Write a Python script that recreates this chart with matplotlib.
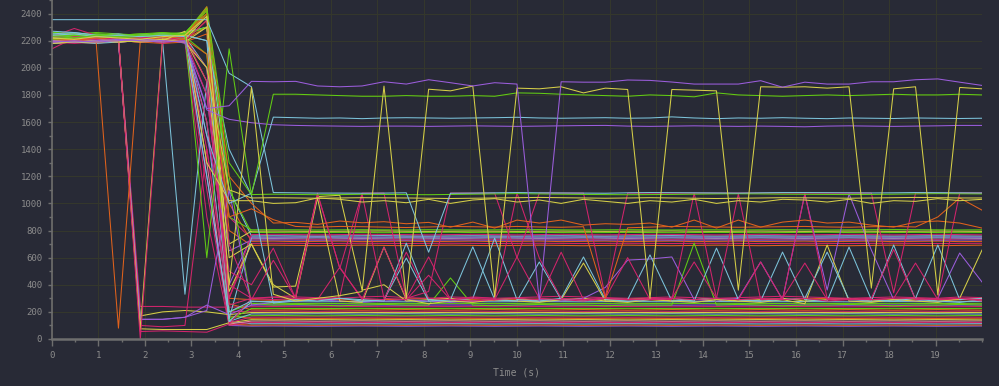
import matplotlib
matplotlib.use("agg")
import matplotlib.pyplot as plt
from matplotlib.ticker import MultipleLocator

# palette
BG = "#282a36"
PURPLE = "#9b5ddc"
GREEN = "#62cc14"
CYAN = "#7cc3da"
YELLOW = "#d6cf48"
ORANGE = "#e0621c"
MAGENTA = "#d2246c"
PINK = "#ee7fa0"

time_s = [0.00, 0.48, 0.95, 1.43, 1.90, 2.38, 2.86, 3.33, 3.81, 4.29,
          4.76, 5.24, 5.71, 6.19, 6.67, 7.14, 7.62, 8.10, 8.57, 9.05,
          9.52, 10.00, 10.48, 10.95, 11.43, 11.90, 12.38, 12.86, 13.33, 13.81,
          14.29, 14.76, 15.24, 15.71, 16.19, 16.67, 17.14, 17.62, 18.10, 18.57,
          19.05, 19.52, 20.00]

# ── top lines ────────────────────────────────────────────────────────
purple_top = [2200, 2190, 2200, 2210, 2200, 2190, 2200, 1700, 1720,
              1900, 1897, 1900, 1866, 1860, 1866, 1897, 1880, 1912, 1890, 1866, 1890, 1880, 280, 1897, 1894, 1894,
              1910, 1907, 1895, 1880, 1880, 1880, 1905, 1857, 1894, 1880, 1880, 1897, 1897, 1912, 1918, 1894, 1870]
green_high = [2230, 2220, 2240, 2230, 2240, 2250, 2250, 600, 2140,
              1060, 1805, 1805, 1800, 1795, 1790, 1790, 1795, 1790, 1790, 1795, 1790, 1815, 1812, 1805, 1800, 1795,
              1790, 1800, 1795, 1786, 1815, 1800, 1795, 1790, 1795, 1800, 1795, 1800, 1805, 1800, 1800, 1805, 1800]
cyan_top = [2355, 2355, 2355, 2355, 2355, 2355, 2355, 2355, 1960,
            1860, 1080, 1078, 1076, 1076, 1075, 1076, 1078, 640, 1075, 1076, 1078, 1080, 1078, 1077, 1076, 1075,
            1078, 1080, 1079, 1078, 1077, 1076, 1078, 1080, 1080, 1079, 1078, 1077, 1078, 1080, 1079, 1078, 1077]
cyan_mid = [2240, 2250, 2230, 2240, 2230, 2240, 2230, 1500, 1000,
            1075, 1636, 1632, 1628, 1630, 1625, 1630, 1632, 1630, 1628, 1630, 1632, 1635, 1630, 1628, 1630, 1632,
            1628, 1630, 1638, 1630, 1625, 1630, 1628, 1632, 1628, 1625, 1630, 1628, 1626, 1630, 1628, 1626, 1628]
purple_mid = [2190, 2200, 2190, 2200, 2210, 2200, 2190, 1690, 1620,
              1595, 1580, 1575, 1572, 1570, 1568, 1570, 1570, 1568, 1570, 1572, 1570, 1568, 1570, 1572, 1574, 1575,
              1570, 1568, 1570, 1572, 1570, 1568, 1570, 1568, 1565, 1570, 1572, 1570, 1568, 1570, 1572, 1575, 1575]
yellow_osc = [2220, 2210, 2230, 2220, 2210, 2230, 2240, 2380, 400,
              1855, 330, 280, 300, 320, 350, 1865, 300, 1842, 1830, 1865, 310, 1850, 1845, 1860, 1815, 1850,
              1840, 300, 1840, 1835, 1830, 360, 1860, 1857, 1860, 1850, 1860, 375, 1845, 1860, 325, 1855, 1845]

# ── ~1000-1080 band ──────────────────────────────────────────────────
green_1065 = [2210, 2220, 2230, 2220, 2230, 2240, 2250, 2440, 1300,
              1065, 1068, 1066, 1064, 1065, 1067, 1066, 1065, 1064, 1066, 1068, 1070, 1072, 1070, 1068, 1066, 1065,
              1064, 1065, 1066, 1068, 1070, 1071, 1070, 1068, 1067, 1066, 1065, 1066, 1068, 1070, 1072, 1071, 1070]
yellow_1040 = [2180, 2190, 2200, 2190, 2200, 2210, 2190, 2000, 1100,
               1040, 1042, 1040, 1038, 1040, 1042, 1041, 1040, 1038, 1036, 1038, 1040, 1042, 1044, 1042, 1040, 1038,
               1040, 1042, 1040, 1038, 1036, 1038, 1040, 1042, 1041, 1040, 1038, 1040, 1042, 1044, 1042, 1040, 1040]
yellow_1005 = [2200, 2190, 2190, 2200, 2190, 2200, 2270, 1300, 1020,
               1020, 1000, 1005, 1040, 1030, 1010, 1020, 1005, 1030, 1000, 1025, 1035, 1010, 1025, 1000, 1030, 1015,
               1000, 1020, 1010, 1030, 1000, 1020, 1010, 1030, 1025, 1010, 1030, 1000, 1020, 1015, 1035, 1020, 1030]
orange_850 = [2210, 2200, 2220, 2200, 2210, 2220, 2230, 2450, 1200,
              1000, 855, 860, 845, 870, 857, 865, 850, 860, 825, 862, 818, 877, 855, 877, 840, 850,
              845, 855, 825, 877, 818, 877, 825, 862, 877, 855, 862, 840, 825, 862, 870, 855, 818]
orange_osc = [2200, 2210, 2190, 80, 2200, 2190, 2210, 2100, 900,
              960, 880, 830, 825, 830, 828, 825, 822, 826, 830, 828, 825, 830, 826, 824, 828, 300,
              820, 825, 830, 828, 826, 824, 826, 828, 830, 826, 824, 828, 830, 826, 900, 1040, 950]

# ── oscillating lines ────────────────────────────────────────────────
mag_osc1 = [2140, 2220, 2230, 2220, 0, 2200, 2230, 1900, 250,
            300, 310, 320, 1075, 520, 1076, 1076, 300, 350, 1076, 1076, 1076, 600, 1076, 1076, 1076, 310,
            1076, 1076, 1076, 1076, 1076, 1076, 1076, 1076, 1076, 1076, 1076, 1076, 340, 1076, 1076, 1076, 1076]
mag_osc2 = [2200, 2230, 2220, 2210, 2220, 2180, 2210, 1800, 400,
            300, 290, 300, 290, 530, 290, 678, 300, 605, 290, 280, 290, 605, 300, 290, 280, 300,
            290, 290, 300, 568, 300, 290, 568, 290, 300, 280, 290, 290, 300, 300, 290, 300, 280]
mag_osc3 = [2210, 2200, 2220, 2210, 2230, 2200, 2190, 1600, 500,
            400, 670, 300, 1068, 523, 300, 290, 640, 300, 290, 310, 300, 1076, 597, 300, 290, 300,
            600, 290, 300, 290, 300, 1070, 290, 300, 560, 290, 300, 290, 300, 560, 290, 300, 290]
mag_osc4 = [2230, 2220, 2210, 2230, 2220, 2230, 2200, 2350, 700,
            290, 580, 300, 290, 310, 1068, 300, 290, 470, 290, 300, 290, 300, 290, 640, 290, 300,
            290, 300, 290, 1076, 300, 290, 300, 290, 1070, 300, 290, 300, 660, 290, 300, 1076, 1076]
cyan_osc1 = [2230, 2210, 2220, 2210, 2230, 2190, 330, 1900, 200,
             280, 270, 290, 280, 300, 290, 280, 707, 290, 280, 300, 744, 290, 280, 300, 605, 290,
             280, 290, 300, 280, 670, 290, 280, 290, 300, 641, 290, 280, 693, 290, 280, 270, 290]
cyan_osc2 = [2250, 2260, 2240, 2230, 2240, 2250, 2240, 2200, 1400,
             1060, 265, 280, 290, 300, 280, 290, 597, 280, 290, 680, 290, 280, 568, 290, 280, 300,
             290, 620, 280, 290, 300, 290, 280, 641, 290, 280, 678, 290, 280, 300, 693, 290, 300]
yellow_osc2 = [2220, 2210, 2200, 2210, 70, 2220, 2210, 2380, 350,
               700, 400, 300, 1040, 280, 270, 678, 290, 260, 280, 270, 290, 280, 270, 290, 560, 280,
               270, 290, 280, 270, 290, 280, 270, 290, 260, 693, 280, 270, 290, 280, 270, 300, 656]
yellow_low = [2200, 2210, 2200, 2190, 2210, 2200, 2190, 2300, 600,
              700, 383, 390, 1050, 1060, 360, 400, 280, 290, 300, 280, 290, 300, 280, 290, 300, 280,
              290, 300, 280, 290, 300, 280, 290, 300, 280, 290, 300, 280, 290, 300, 280, 290, 300]
purple_osc = [2190, 2200, 2210, 2190, 145, 145, 160, 210, 1100,
              250, 270, 280, 290, 280, 270, 280, 290, 280, 270, 280, 290, 280, 290, 280, 300, 380,
              582, 590, 605, 290, 280, 300, 568, 290, 1070, 361, 1070, 656, 290, 280, 300, 634, 420]
green_osc = [2230, 2240, 2230, 2220, 2240, 2230, 2250, 2300, 1200,
             260, 250, 255, 250, 245, 250, 255, 250, 250, 450, 250, 245, 250, 255, 250, 250, 245,
             250, 250, 250, 707, 250, 255, 250, 245, 250, 250, 255, 250, 245, 250, 250, 255, 250]

# ── 690-810 band ─────────────────────────────────────────────────────
green_800 = [2240, 2230, 2250, 2240, 2250, 2260, 2240, 2300, 900,
             805, 806, 805, 804, 805, 806, 805, 804, 806, 805, 804, 805, 806, 807, 805, 804, 805,
             806, 805, 804, 806, 805, 804, 805, 806, 805, 804, 805, 806, 807, 806, 805, 804, 805]
yellow_795 = [2220, 2210, 2200, 2210, 2220, 2200, 2210, 1900, 700,
              795, 796, 795, 794, 795, 796, 797, 795, 794, 795, 796, 795, 794, 795, 796, 795, 794,
              795, 796, 797, 795, 794, 795, 796, 795, 794, 795, 796, 795, 794, 795, 796, 795, 794]
green_785 = [2260, 2250, 2240, 2230, 2240, 2250, 2260, 2420, 1100,
             786, 785, 784, 785, 786, 785, 784, 785, 786, 787, 785, 784, 785, 786, 785, 784, 785,
             786, 785, 784, 785, 786, 785, 784, 785, 786, 787, 785, 784, 785, 786, 785, 784, 785]
mag_770 = [2200, 2220, 2230, 2210, 2220, 2200, 2230, 1400, 300,
           770, 772, 770, 768, 770, 772, 771, 770, 768, 770, 772, 770, 768, 770, 772, 770, 768,
           770, 772, 771, 770, 768, 770, 772, 770, 768, 770, 772, 770, 768, 770, 772, 770, 768]
cyan_760 = [2270, 2260, 2240, 2250, 2230, 2240, 2260, 2300, 1100,
            760, 761, 760, 759, 760, 761, 762, 760, 759, 760, 761, 760, 759, 760, 761, 760, 759,
            760, 761, 762, 760, 759, 760, 761, 760, 759, 760, 761, 760, 759, 760, 761, 760, 759]
purple_752 = [2210, 2200, 2220, 2210, 2200, 2220, 2180, 1800, 400,
              752, 751, 752, 753, 752, 751, 752, 753, 752, 751, 752, 753, 752, 751, 752, 753, 752,
              751, 752, 753, 752, 751, 752, 753, 752, 751, 752, 753, 752, 751, 752, 753, 752, 751]
cyan_745 = [2180, 2190, 2180, 2190, 2200, 2190, 2210, 1200, 150,
            745, 744, 745, 746, 745, 744, 745, 746, 745, 744, 745, 746, 745, 744, 745, 746, 745,
            744, 745, 746, 745, 744, 745, 746, 745, 744, 745, 746, 745, 744, 745, 746, 745, 744]
mag_738 = [2230, 2290, 2240, 2230, 2240, 2230, 2250, 2300, 900,
           738, 740, 738, 736, 738, 740, 738, 736, 738, 740, 738, 736, 738, 740, 738, 736, 738,
           740, 738, 736, 738, 740, 738, 736, 738, 740, 738, 736, 738, 740, 738, 736, 738, 740]
purple_730 = [2200, 2210, 2200, 2190, 2200, 2210, 2200, 1500, 650,
              730, 731, 730, 729, 730, 731, 730, 729, 730, 731, 730, 729, 730, 731, 730, 729, 730,
              731, 730, 729, 730, 731, 730, 729, 730, 731, 730, 729, 730, 731, 730, 729, 730, 731]
orange_720 = [2210, 2220, 2230, 2220, 2210, 2230, 2220, 2400, 1000,
              720, 722, 718, 720, 722, 718, 720, 722, 718, 720, 722, 718, 720, 722, 718, 720, 722,
              718, 720, 722, 718, 720, 722, 718, 720, 722, 718, 720, 722, 718, 720, 722, 718, 720]
mag_705 = [2190, 2180, 2190, 2200, 2190, 2200, 2210, 2000, 300,
           705, 706, 705, 704, 705, 706, 705, 704, 705, 706, 705, 704, 705, 706, 705, 704, 705,
           706, 705, 704, 705, 706, 705, 704, 705, 706, 705, 704, 705, 706, 705, 704, 705, 706]
orange_690 = [2180, 2190, 2200, 2190, 2200, 2190, 2200, 2350, 800,
              690, 692, 690, 688, 690, 692, 690, 688, 690, 692, 690, 688, 690, 692, 690, 688, 690,
              692, 690, 688, 690, 692, 690, 688, 690, 692, 690, 688, 690, 692, 690, 688, 690, 692]

# ── 95-315 band ──────────────────────────────────────────────────────
mag_305 = [2200, 2210, 2220, 2210, 55, 60, 55, 50, 110,
           300, 305, 310, 305, 300, 310, 315, 305, 300, 310, 305, 300, 305, 310, 315, 310, 305,
           300, 305, 310, 305, 300, 305, 310, 315, 310, 305, 300, 305, 310, 305, 300, 310, 305]
orange_290 = [2220, 2210, 2230, 2220, 2210, 2230, 2220, 2440, 300,
              290, 285, 290, 295, 290, 285, 290, 295, 300, 295, 290, 285, 290, 295, 290, 285, 290,
              295, 290, 285, 290, 295, 290, 285, 290, 295, 300, 295, 290, 285, 290, 295, 290, 285]
cyan_275 = [2240, 2230, 2220, 2240, 2230, 2250, 2240, 2200, 130,
            275, 276, 275, 274, 275, 276, 275, 274, 275, 276, 275, 274, 275, 276, 275, 274, 275,
            276, 275, 274, 275, 276, 275, 274, 275, 276, 275, 274, 275, 276, 275, 274, 275, 276]
green_262 = [2230, 2240, 2250, 2240, 2230, 2240, 2250, 2450, 200,
             262, 263, 262, 261, 262, 263, 262, 261, 262, 263, 262, 261, 262, 263, 262, 261, 262,
             263, 262, 261, 262, 263, 262, 261, 262, 263, 262, 261, 262, 263, 262, 261, 262, 263]
purple_250 = [2190, 2200, 2210, 2190, 145, 145, 160, 250, 180,
              250, 251, 250, 249, 250, 251, 250, 249, 250, 251, 250, 249, 250, 251, 250, 249, 250,
              251, 250, 249, 250, 251, 250, 249, 250, 251, 250, 249, 250, 251, 250, 249, 250, 251]
mag_238 = [2210, 2200, 2190, 2210, 240, 240, 235, 235, 235,
           238, 239, 238, 237, 238, 239, 238, 237, 238, 239, 238, 237, 238, 239, 238, 237, 238,
           239, 238, 237, 238, 239, 238, 237, 238, 239, 238, 237, 238, 239, 238, 237, 238, 239]
green_225 = [2250, 2240, 2230, 2240, 2250, 2240, 2230, 2100, 140,
             225, 226, 225, 224, 225, 226, 225, 224, 225, 226, 225, 224, 225, 226, 225, 224, 225,
             226, 225, 224, 225, 226, 225, 224, 225, 226, 225, 224, 225, 226, 225, 224, 225, 226]
orange_215 = [2200, 2210, 2200, 2190, 2200, 2210, 2190, 2430, 260,
              215, 213, 215, 217, 215, 213, 215, 217, 215, 213, 215, 217, 215, 213, 215, 217, 215,
              213, 215, 217, 215, 213, 215, 217, 215, 213, 215, 217, 215, 213, 215, 217, 215, 213]
mag_205 = [2220, 2230, 2220, 2210, 100, 90, 100, 1400, 200,
           205, 206, 205, 204, 205, 206, 205, 204, 205, 206, 205, 204, 205, 206, 205, 204, 205,
           206, 205, 204, 205, 206, 205, 204, 205, 206, 205, 204, 205, 206, 205, 204, 205, 206]
yellow_195 = [2210, 2200, 2190, 2210, 170, 200, 210, 200, 180,
              195, 196, 195, 194, 195, 196, 195, 194, 195, 196, 195, 194, 195, 196, 195, 194, 195,
              196, 195, 194, 195, 196, 195, 194, 195, 196, 195, 194, 195, 196, 195, 194, 195, 196]
cyan_185 = [2230, 2240, 2230, 2220, 2230, 2240, 2230, 1600, 130,
            185, 184, 185, 186, 185, 184, 185, 186, 185, 184, 185, 186, 185, 184, 185, 186, 185,
            184, 185, 186, 185, 184, 185, 186, 185, 184, 185, 186, 185, 184, 185, 186, 185, 184]
green_172 = [2260, 2250, 2260, 2250, 2240, 2260, 2250, 2400, 160,
             172, 173, 172, 171, 172, 173, 172, 171, 172, 173, 172, 171, 172, 173, 172, 171, 172,
             173, 172, 171, 172, 173, 172, 171, 172, 173, 172, 171, 172, 173, 172, 171, 172, 173]
mag_162 = [2200, 2190, 2200, 2210, 2200, 2190, 2210, 1100, 120,
           162, 161, 162, 163, 162, 161, 162, 163, 162, 161, 162, 163, 162, 161, 162, 163, 162,
           161, 162, 163, 162, 161, 162, 163, 162, 161, 162, 163, 162, 161, 162, 163, 162, 161]
orange_152 = [2190, 2200, 2210, 2200, 2190, 2200, 2210, 2300, 170,
              152, 153, 152, 151, 152, 153, 152, 151, 152, 153, 152, 151, 152, 153, 152, 151, 152,
              153, 152, 151, 152, 153, 152, 151, 152, 153, 152, 151, 152, 153, 152, 151, 152, 153]
yellow_142 = [2220, 2210, 2220, 2210, 75, 70, 70, 70, 120,
              142, 141, 142, 143, 142, 141, 142, 143, 142, 141, 142, 143, 142, 141, 142, 143, 142,
              141, 142, 143, 142, 141, 142, 143, 142, 141, 142, 143, 142, 141, 142, 143, 142, 141]
pink_132 = [2240, 2250, 2240, 2230, 2240, 2250, 2240, 1300, 110,
            132, 133, 132, 131, 132, 133, 132, 131, 132, 133, 132, 131, 132, 133, 132, 131, 132,
            133, 132, 131, 132, 133, 132, 131, 132, 133, 132, 131, 132, 133, 132, 131, 132, 133]
mag_122 = [2210, 2200, 2210, 2200, 2210, 2200, 2190, 900, 100,
           122, 121, 122, 123, 122, 121, 122, 123, 122, 121, 122, 123, 122, 121, 122, 123, 122,
           121, 122, 123, 122, 121, 122, 123, 122, 121, 122, 123, 122, 121, 122, 123, 122, 121]
cyan_112 = [2230, 2220, 2230, 2240, 2230, 2220, 2230, 2000, 130,
            112, 113, 112, 111, 112, 113, 112, 111, 112, 113, 112, 111, 112, 113, 112, 111, 112,
            113, 112, 111, 112, 113, 112, 111, 112, 113, 112, 111, 112, 113, 112, 111, 112, 113]
orange_102 = [2180, 2190, 2180, 2200, 2190, 2180, 2190, 2250, 110,
              102, 103, 102, 101, 102, 103, 102, 101, 102, 103, 102, 101, 102, 103, 102, 101, 102,
              103, 102, 101, 102, 103, 102, 101, 102, 103, 102, 101, 102, 103, 102, 101, 102, 103]
purple_95 = [2200, 2210, 2200, 2190, 2200, 2210, 2200, 1200, 100,
             95, 96, 95, 94, 95, 96, 95, 94, 95, 96, 95, 94, 95, 96, 95, 94, 95,
             96, 95, 94, 95, 96, 95, 94, 95, 96, 95, 94, 95, 96, 95, 94, 95, 96]

series = [
    # bottom band
    (purple_95, PURPLE), (orange_102, ORANGE), (cyan_112, CYAN), (mag_122, MAGENTA),
    (pink_132, PINK), (yellow_142, YELLOW), (orange_152, ORANGE), (mag_162, MAGENTA),
    (green_172, GREEN), (cyan_185, CYAN), (yellow_195, YELLOW), (mag_205, MAGENTA),
    (orange_215, ORANGE), (green_225, GREEN), (mag_238, MAGENTA), (purple_250, PURPLE),
    (green_262, GREEN), (cyan_275, CYAN), (orange_290, ORANGE), (mag_305, MAGENTA),
    # middle band
    (orange_690, ORANGE), (mag_705, MAGENTA), (orange_720, ORANGE), (purple_730, PURPLE),
    (mag_738, MAGENTA), (cyan_745, CYAN), (purple_752, PURPLE), (cyan_760, CYAN),
    (mag_770, MAGENTA), (green_785, GREEN), (yellow_795, YELLOW), (green_800, GREEN),
    # oscillators
    (green_osc, GREEN), (yellow_low, YELLOW), (purple_osc, PURPLE), (yellow_osc2, YELLOW),
    (cyan_osc2, CYAN), (cyan_osc1, CYAN), (mag_osc4, MAGENTA), (mag_osc3, MAGENTA),
    (mag_osc2, MAGENTA), (mag_osc1, MAGENTA),
    # ~1000 band
    (orange_osc, ORANGE), (orange_850, ORANGE), (yellow_1005, YELLOW), (yellow_1040, YELLOW),
    (green_1065, GREEN),
    # top
    (cyan_top, CYAN), (purple_mid, PURPLE), (cyan_mid, CYAN), (green_high, GREEN),
    (yellow_osc, YELLOW), (purple_top, PURPLE),
]

fig = plt.figure(figsize=(9.99, 3.86), dpi=100, facecolor=BG)
ax = fig.add_axes([0.052, 0.1218, 0.931, 0.8782])
ax.set_facecolor(BG)

for vals, color in series:
    ax.plot(time_s, vals, color=color, lw=0.75)

ax.set_xlim(0, 20)
ax.set_ylim(0, 2500)
ax.xaxis.set_minor_locator(MultipleLocator(0.5))
ax.yaxis.set_minor_locator(MultipleLocator(100))
ax.set_xticks(range(0, 20))
ax.set_yticks(range(0, 2401, 200))

ax.grid(True, which="major", color="#34372c", lw=0.8)
ax.set_axisbelow(True)

for side in ("top", "right"):
    ax.spines[side].set_visible(False)
ax.spines["left"].set_color("#6e6e6e")
ax.spines["left"].set_linewidth(1.2)
ax.spines["bottom"].set_color("#6e6e6e")
ax.spines["bottom"].set_linewidth(1.8)

mono = "DejaVu Sans Mono"
ax.tick_params(axis="both", which="both", colors="#6e6e6e", labelcolor="#8c8c8c",
               labelsize=6.5, width=1)
ax.tick_params(axis="x", which="major", length=5, pad=4)
ax.tick_params(axis="x", which="minor", length=2.5)
ax.tick_params(axis="y", which="major", length=3, pad=4)
ax.tick_params(axis="y", which="minor", length=2.5)
for lbl in ax.get_xticklabels() + ax.get_yticklabels():
    lbl.set_family(mono)

ax.set_xlabel("Time (s)", family=mono, fontsize=7, color="#8c8c8c", labelpad=5)

fig.savefig("out.png", dpi=100, facecolor=BG)
